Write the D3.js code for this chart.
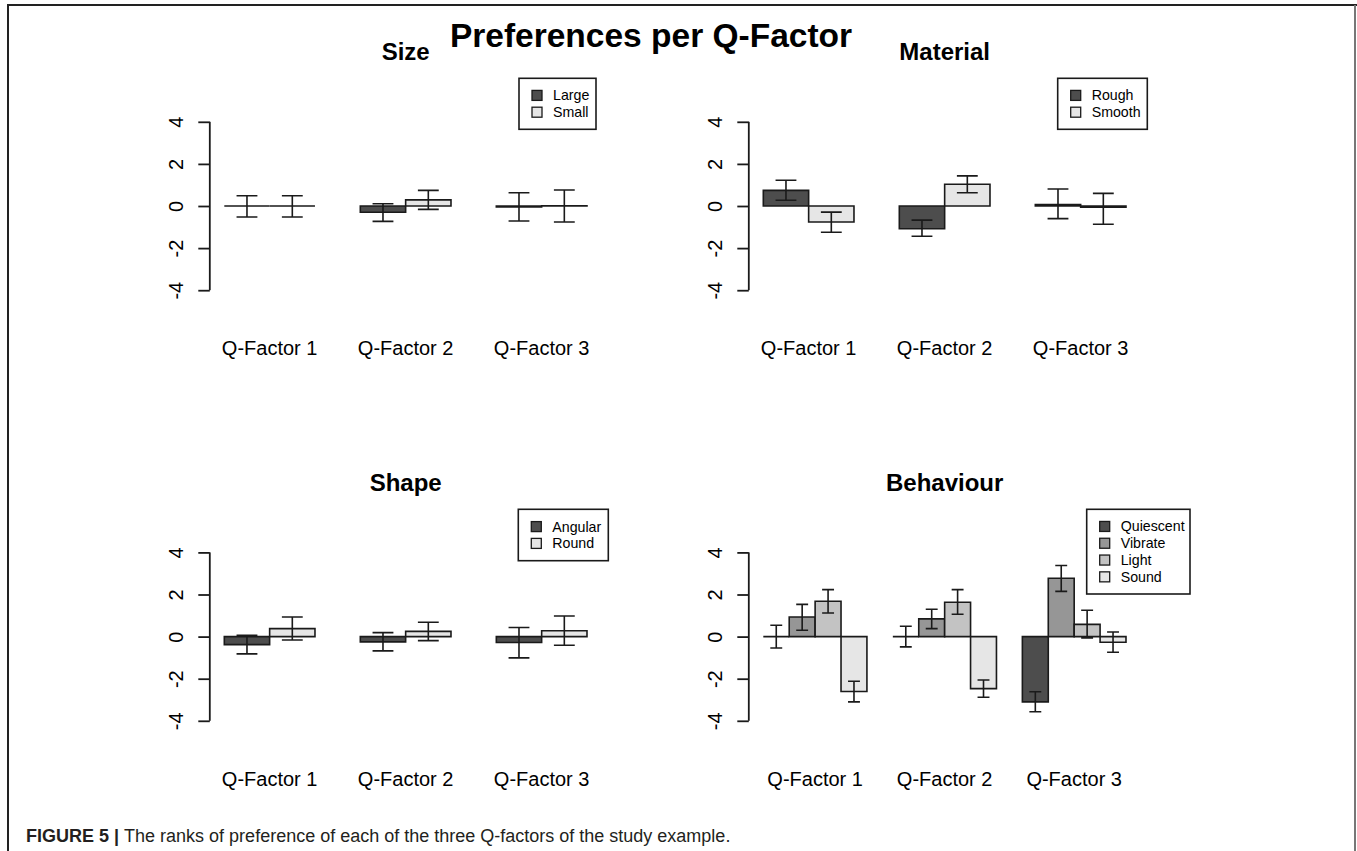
<!DOCTYPE html>
<html>
<head>
<meta charset="utf-8">
<script src="https://cdnjs.cloudflare.com/ajax/libs/d3/7.8.5/d3.min.js"></script>
<style>
  body { margin: 0; background: #fff; }
  svg { font-family: "Liberation Sans", Arial, sans-serif; }
</style>
</head>
<body>
<svg id="chart" width="1357" height="851"></svg>
<script>
// categories shared by all four panels
var qFactors = ["Q-Factor 1", "Q-Factor 2", "Q-Factor 3"];

// Size
var sizeSeries = ["Large", "Small"];
var sizeMean  = [[0, -0.30, -0.04], [0, 0.29, 0.01]];
var sizeLower = [[-0.52, -0.73, -0.71], [-0.52, -0.16, -0.76]];
var sizeUpper = [[0.49, 0.11, 0.63], [0.49, 0.74, 0.76]];

// Material
var materialSeries = ["Rough", "Smooth"];
var materialMean  = [[0.74, -1.08, 0.07], [-0.76, 1.03, -0.06]];
var materialLower = [[0.27, -1.44, -0.60], [-1.25, 0.63, -0.87]];
var materialUpper = [[1.22, -0.67, 0.81], [-0.29, 1.43, 0.60]];

// Shape
var shapeSeries = ["Angular", "Round"];
var shapeMean  = [[-0.38, -0.25, -0.28], [0.38, 0.25, 0.28]];
var shapeLower = [[-0.82, -0.68, -1.01], [-0.16, -0.19, -0.41]];
var shapeUpper = [[0.06, 0.19, 0.43], [0.93, 0.68, 0.98]];

// Behaviour
var behaviourSeries = ["Quiescent", "Vibrate", "Light", "Sound"];
var behaviourMean  = [[0, 0, -3.10], [0.93, 0.84, 2.77], [1.68, 1.63, 0.58], [-2.61, -2.47, -0.27]];
var behaviourLower = [[-0.54, -0.49, -3.57], [0.30, 0.38, 2.15], [1.12, 1.06, -0.06], [-3.10, -2.88, -0.74]];
var behaviourUpper = [[0.54, 0.49, -2.62], [1.53, 1.30, 3.38], [2.23, 2.23, 1.25], [-2.12, -2.06, 0.22]];

var yTicks = [-4, -2, 0, 2, 4];

var svg = d3.select("#chart");
var ink = "#1a1a1a";

// figure frame
svg.append("path").attr("d", "M8,851 V5 H1357").attr("fill", "none").attr("stroke", "#222").attr("stroke-width", 2);
svg.append("line").attr("x1", 1355).attr("x2", 1355).attr("y1", 5).attr("y2", 851)
  .attr("stroke", "#777").attr("stroke-width", 2);

svg.append("text").attr("x", 651).attr("y", 47).attr("text-anchor", "middle")
  .attr("font-size", 33.5).attr("font-weight", "bold").attr("fill", "#000")
  .text("Preferences per Q-Factor");

var panels = [
  {title: "Size", series: sizeSeries, mean: sizeMean, lo: sizeLower, hi: sizeUpper,
   left: 209.8, right: 601.5, dy: 0, legend: {x: 519, y: 78.3, w: 77, h: 51}},
  {title: "Material", series: materialSeries, mean: materialMean, lo: materialLower, hi: materialUpper,
   left: 748.8, right: 1140.5, dy: 0, legend: {x: 1057.7, y: 78.3, w: 89.6, h: 51}},
  {title: "Shape", series: shapeSeries, mean: shapeMean, lo: shapeLower, hi: shapeUpper,
   left: 209.8, right: 601.5, dy: 430.6, legend: {x: 518.3, y: 509.3, w: 90, h: 51.4}},
  {title: "Behaviour", series: behaviourSeries, mean: behaviourMean, lo: behaviourLower, hi: behaviourUpper,
   left: 748.8, right: 1140.5, dy: 430.6, legend: {x: 1086.7, y: 509.3, w: 103.3, h: 84.7}}
];

panels.forEach(function(p) {
  var k = p.series.length;
  var span = 3 * (k + 1) - 1;
  var x = d3.scaleLinear()
      .domain([1 - 0.04 * span, 3 * (k + 1) + 0.04 * span])
      .range([p.left, p.right]);
  var y = d3.scaleLinear().domain([-4, 4]).range([290.2 + p.dy, 121.8 + p.dy]);
  var color = d3.scaleOrdinal()
      .domain(p.series)
      .range(k == 2 ? ["#4d4d4d", "#e6e6e6"] : ["#4d4d4d", "#969696", "#c3c3c3", "#e6e6e6"]);
  var bw = x(1) - x(0);
  var g = svg.append("g");

  // title
  g.append("text").attr("x", (p.left + p.right) / 2).attr("y", 60 + p.dy)
    .attr("text-anchor", "middle").attr("font-size", 24).attr("font-weight", "bold")
    .text(p.title);

  // y axis (R style, rotated labels)
  var axis = g.append("g").attr("transform", "translate(" + p.left + ",0)")
    .call(d3.axisLeft(y).tickValues(yTicks).tickSize(11.5).tickPadding(0)
      .tickFormat(function(d) { return String(d); }));
  axis.select(".domain").attr("stroke", ink).attr("stroke-width", 1.8)
    .attr("d", "M0," + y(4) + "V" + y(-4));
  axis.selectAll(".tick line").attr("stroke", ink).attr("stroke-width", 1.8);
  axis.selectAll(".tick text")
    .attr("x", null).attr("dy", null)
    .attr("transform", "translate(-27,0) rotate(-90)")
    .attr("text-anchor", "middle")
    .attr("font-size", 20).attr("font-family", "Liberation Sans, Arial, sans-serif")
    .attr("fill", "#000");

  // bars
  var bars = [];
  qFactors.forEach(function(q, gi) {
    p.series.forEach(function(s, si) {
      var x0 = 1 + gi * (k + 1) + si;
      bars.push({s: s, x0: x0, v: p.mean[si][gi], lo: p.lo[si][gi], hi: p.hi[si][gi]});
    });
  });

  g.selectAll(".bar").data(bars).enter().append("path")
    .attr("class", "bar")
    .attr("d", function(d) {
      return "M" + x(d.x0) + "," + y(0) + "H" + x(d.x0 + 1) + "V" + y(d.v) + "H" + x(d.x0) + "Z";
    })
    .attr("fill", function(d) { return color(d.s); })
    .attr("stroke", ink).attr("stroke-width", 1.6);

  // error bars
  var cap = bw * 0.23;
  g.selectAll(".err").data(bars).enter().append("path")
    .attr("class", "err")
    .attr("d", function(d) {
      var cx = x(d.x0 + 0.5);
      return "M" + cx + "," + y(d.lo) + "V" + y(d.hi) +
        "M" + (cx - cap) + "," + y(d.hi) + "H" + (cx + cap) +
        "M" + (cx - cap) + "," + y(d.lo) + "H" + (cx + cap);
    })
    .attr("fill", "none").attr("stroke", ink).attr("stroke-width", 1.6);

  // category labels
  g.selectAll(".cat").data(qFactors).enter().append("text")
    .attr("x", function(d, i) { return x(1 + i * (k + 1) + k / 2); })
    .attr("y", 355 + p.dy)
    .attr("text-anchor", "middle").attr("font-size", 20).attr("fill", "#000")
    .text(function(d) { return d; });

  // legend
  var L = p.legend;
  g.append("rect").attr("x", L.x).attr("y", L.y).attr("width", L.w).attr("height", L.h)
    .attr("fill", "#fff").attr("stroke", ink).attr("stroke-width", 1.6);
  var rowH = 16.8;
  var firstRow = L.y + (L.h - rowH * (k - 1)) / 2;
  var item = g.selectAll(".leg").data(p.series).enter().append("g")
    .attr("transform", function(d, i) { return "translate(" + L.x + "," + (firstRow + i * rowH) + ")"; });
  item.append("rect").attr("x", 13).attr("y", -5).attr("width", 10).attr("height", 10)
    .attr("fill", function(d) { return color(d); }).attr("stroke", ink).attr("stroke-width", 1.3);
  item.append("text").attr("x", 34).attr("y", 5).attr("font-size", 14.2).attr("fill", "#000")
    .text(function(d) { return d; });
});

// caption
var caption = svg.append("text").attr("x", 26).attr("y", 842).attr("font-size", 18).attr("fill", "#231f20");
caption.append("tspan").attr("font-weight", "bold").text("FIGURE 5 | ");
caption.append("tspan").text("The ranks of preference of each of the three Q-factors of the study example.");
</script>
</body>
</html>
